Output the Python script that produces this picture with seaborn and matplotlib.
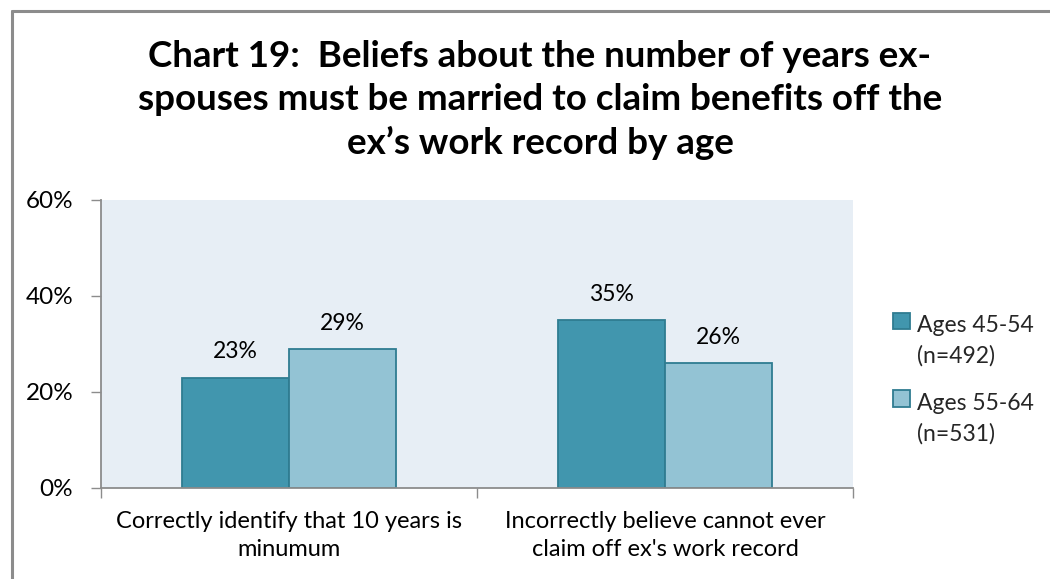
import matplotlib
matplotlib.use("Agg")
import matplotlib.pyplot as plt
from matplotlib.lines import Line2D
from matplotlib.patches import Rectangle
from matplotlib.legend_handler import HandlerPatch
from matplotlib.ticker import FixedLocator, PercentFormatter
import seaborn as sns
import pandas as pd

# Survey results (percent of respondents)
categories = ["Correctly identify that 10 years is\nminumum",
              "Incorrectly believe cannot ever\nclaim off ex's work record"]
groups = ["Ages 45-54\n(n=492)", "Ages 55-64\n(n=531)"]
ages_45_54 = [23, 35]
ages_55_64 = [29, 26]
y_ticks = [0, 20, 40, 60]
title = ("Chart 19:  Beliefs about the number of years ex-\n"
         "spouses must be married to claim benefits off the\n"
         "ex\u2019s work record by age")

df = pd.DataFrame({
    "category": categories * 2,
    "group": [groups[0]] * 2 + [groups[1]] * 2,
    "value": ages_45_54 + ages_55_64,
})

sns.set_theme(style="white")
plt.rcParams["font.family"] = ["Lato", "DejaVu Sans"]

fill_colors = ["#4196AE", "#93C3D4"]
edge_color = "#2F7C91"
grey = "#8C8C8C"

fig = plt.figure(figsize=(10.5, 5.79), dpi=100)
ax = fig.add_axes([101 / 1050, 1 - 488 / 579, 752 / 1050, 288 / 579])
ax.set_facecolor("#E7EEF5")

sns.barplot(data=df, x="category", y="value", hue="group", order=categories,
            hue_order=groups, palette=fill_colors, width=0.57, ax=ax,
            edgecolor=edge_color, linewidth=1.3, saturation=1)

for cont in ax.containers:
    ax.bar_label(cont, labels=[f"{v:.0f}%" for v in cont.datavalues],
                 padding=11, fontsize=16.5, color="black")

ax.set_ylim(0, 60)
ax.set_xlim(-0.5, 1.5)
ax.yaxis.set_major_locator(FixedLocator(y_ticks))
ax.yaxis.set_major_formatter(PercentFormatter(decimals=0))
ax.tick_params(axis="y", which="major", direction="out", length=7, width=1,
               color=grey, labelsize=17.5, labelcolor="black", pad=13, left=True)

# category boundaries carry the tick marks, labels sit at category centres
ax.set_xticks([-0.5, 0.5, 1.5])
ax.set_xticklabels([])
ax.set_xticks([0, 1], minor=True)
ax.set_xticklabels(categories, minor=True, fontsize=17, color="black",
                   linespacing=1.4)
ax.tick_params(axis="x", which="major", direction="out", length=7, width=1,
               color=grey, bottom=True)
ax.tick_params(axis="x", which="minor", length=0, pad=16.5)
ax.set_xlabel("")
ax.set_ylabel("")

for side in ["top", "right"]:
    ax.spines[side].set_visible(False)
for side in ["left", "bottom"]:
    ax.spines[side].set_color(grey)
    ax.spines[side].set_linewidth(1.3)


def top_square(legend, orig_handle, xdescent, ydescent, width, height, fontsize):
    # square key aligned with the first line of a two-line label
    return Rectangle((-xdescent, -ydescent + 0.91 * fontsize), width, height)


handles, labels = ax.get_legend_handles_labels()
leg = ax.legend(handles, labels, loc="upper left",
                bbox_to_anchor=(884 / 1050, 1 - 306 / 579),
                bbox_transform=fig.transFigure, frameon=False, fontsize=16.5,
                handlelength=0.72, handleheight=0.72, handletextpad=0.3,
                labelspacing=1.13, borderaxespad=0,
                handler_map={h: HandlerPatch(patch_func=top_square) for h in handles})
for t in leg.get_texts():
    t.set_linespacing(1.53)

fig.text(540 / 1050, 1 - 100 / 579, title, ha="center", va="center",
         fontsize=26.5, fontweight="bold", linespacing=1.35, color="black")

# outer chart frame
frame = dict(color=grey, linewidth=2.2, transform=fig.transFigure)
fig.add_artist(Line2D([11.5 / 1050, 11.5 / 1050], [0, 1 - 11 / 579], **frame))
fig.add_artist(Line2D([11.5 / 1050, 1], [1 - 11 / 579, 1 - 11 / 579], **frame))

fig.savefig("out.png", dpi=100)
